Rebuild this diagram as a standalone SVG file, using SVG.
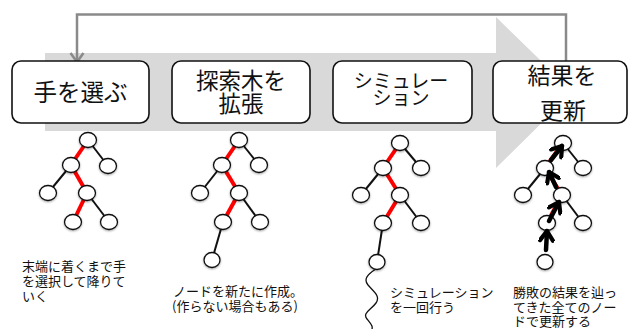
<svg xmlns="http://www.w3.org/2000/svg" width="629" height="329" viewBox="0 0 629 329">
<style>
.box{fill:#fff;stroke:#111;stroke-width:1.6}
.bt{font-family:"Noto Sans CJK JP","Liberation Sans",sans-serif;fill:#111;text-anchor:middle}
.lt{font-family:"Noto Sans CJK JP","Liberation Sans",sans-serif;fill:#111;font-size:13px}
.nd{fill:#fff;stroke:#111;stroke-width:1.3;filter:url(#sh)}
.eb{stroke:#111;stroke-width:2;fill:none}
.er{stroke:#f00;stroke-width:4;fill:none}
.ua{stroke:#000;stroke-width:4.5;fill:none;stroke-linecap:round;marker-end:url(#ch)}
</style>
<defs>
<filter id="sh" x="-50%" y="-50%" width="200%" height="200%">
<feDropShadow dx="0" dy="1" stdDeviation="1" flood-color="#000" flood-opacity="0.35"/>
</filter>
<marker id="ch" viewBox="0 0 16 16" refX="12.5" refY="8" markerWidth="16" markerHeight="16" orient="auto" markerUnits="userSpaceOnUse">
<polyline points="3,1.5 12.5,8 3,14.5" fill="none" stroke="#000" stroke-width="4.2" stroke-linecap="round" stroke-linejoin="round"/>
</marker>
</defs>
<!-- big gray process arrow -->
<polygon points="45,53 496,53 496,17 573,92 496,168 496,131 45,131" fill="#d9d9d9"/>
<!-- feedback connector -->
<g id="connectors">
<polyline points="566,62 566,14.5 77,14.5 77,60" fill="none" stroke="#8a8a8a" stroke-width="2.5"/>
<polyline points="70.5,53 77,62 83.5,53" fill="none" stroke="#8a8a8a" stroke-width="2.5"/>
</g>
<g id="box1">
<rect class="box" x="12" y="61" width="137" height="62" rx="9"/>
<text class="bt" x="80.5" y="101" font-size="23.5">手を選ぶ</text>
</g>
<g id="box2">
<rect class="box" x="172" y="61" width="138" height="62" rx="9"/>
<text class="bt" x="241" y="89" font-size="22.5">探索木を</text>
<text class="bt" x="241" y="112" font-size="22.5">拡張</text>
</g>
<g id="box3">
<rect class="box" x="333" y="61" width="139" height="62" rx="9"/>
<text class="bt" x="401" y="88" font-size="19">シミュレー</text>
<text class="bt" x="401" y="105" font-size="19">ション</text>
</g>
<g id="box4">
<rect class="box" x="493" y="61" width="134" height="62" rx="9"/>
<text class="bt" x="562" y="84" font-size="23">結果を</text>
<text class="bt" x="563" y="119" font-size="23">更新</text>
</g>
<!-- tree 1 -->
<g id="tree1">
<line class="er" x1="88" y1="140" x2="71" y2="165"/>
<line class="eb" x1="88" y1="140" x2="108" y2="166"/>
<line class="eb" x1="71" y1="165" x2="48" y2="193"/>
<line class="er" x1="71" y1="165" x2="87" y2="193"/>
<line class="er" x1="87" y1="193" x2="73" y2="222"/>
<line class="eb" x1="87" y1="193" x2="109" y2="222"/>
<ellipse class="nd" cx="88" cy="140" rx="8.5" ry="7.5"/>
<ellipse class="nd" cx="71" cy="165" rx="8.5" ry="7.5"/>
<ellipse class="nd" cx="108" cy="166" rx="8.5" ry="7.5"/>
<ellipse class="nd" cx="48" cy="193" rx="8.5" ry="7.5"/>
<ellipse class="nd" cx="87" cy="193" rx="8.5" ry="7.5"/>
<ellipse class="nd" cx="73" cy="222" rx="8.5" ry="7.5"/>
<ellipse class="nd" cx="109" cy="222" rx="8.5" ry="7.5"/>
<text class="lt" x="22" y="271">末端に着くまで手</text>
<text class="lt" x="22" y="286">を選択して降りて</text>
<text class="lt" x="22" y="301">いく</text>
</g>
<!-- tree 2 -->
<g id="tree2">
<line class="er" x1="239" y1="140" x2="222" y2="165"/>
<line class="eb" x1="239" y1="140" x2="259" y2="165"/>
<line class="eb" x1="222" y1="165" x2="200" y2="193"/>
<line class="er" x1="222" y1="165" x2="239" y2="193"/>
<line class="er" x1="239" y1="193" x2="223" y2="222"/>
<line class="eb" x1="239" y1="193" x2="260" y2="222"/>
<line class="eb" x1="223" y1="222" x2="212" y2="260"/>
<ellipse class="nd" cx="239" cy="140" rx="8.5" ry="7.5"/>
<ellipse class="nd" cx="222" cy="165" rx="8.5" ry="7.5"/>
<ellipse class="nd" cx="259" cy="165" rx="8.5" ry="7.5"/>
<ellipse class="nd" cx="200" cy="193" rx="8.5" ry="7.5"/>
<ellipse class="nd" cx="239" cy="193" rx="8.5" ry="7.5"/>
<ellipse class="nd" cx="223" cy="222" rx="8.5" ry="7.5"/>
<ellipse class="nd" cx="260" cy="222" rx="8.5" ry="7.5"/>
<ellipse class="nd" cx="212" cy="260" rx="8" ry="7.5"/>
<text class="lt" x="173" y="296">ノードを新たに作成。</text>
<text class="lt" x="172" y="311">(作らない場合もある)</text>
</g>
<!-- tree 3 -->
<g id="tree3">
<line class="er" x1="400" y1="143" x2="383" y2="168"/>
<line class="eb" x1="400" y1="143" x2="421" y2="168"/>
<line class="eb" x1="383" y1="168" x2="361" y2="195"/>
<line class="er" x1="383" y1="168" x2="400" y2="195"/>
<line class="er" x1="400" y1="195" x2="383" y2="223"/>
<line class="eb" x1="400" y1="195" x2="421" y2="223"/>
<line class="eb" x1="383" y1="223" x2="377" y2="262"/>
<path d="M376,269 C368,274 363,279 368,285 C373,291 381,296 376,303 C371,310 362,313 367,319 C371,324 374,327 371,331" fill="none" stroke="#111" stroke-width="1.3"/>
<ellipse class="nd" cx="400" cy="143" rx="8.5" ry="7.5"/>
<ellipse class="nd" cx="383" cy="168" rx="8.5" ry="7.5"/>
<ellipse class="nd" cx="421" cy="168" rx="8.5" ry="7.5"/>
<ellipse class="nd" cx="361" cy="195" rx="8.5" ry="7.5"/>
<ellipse class="nd" cx="400" cy="195" rx="8.5" ry="7.5"/>
<ellipse class="nd" cx="383" cy="223" rx="8.5" ry="7.5"/>
<ellipse class="nd" cx="421" cy="223" rx="8.5" ry="7.5"/>
<ellipse class="nd" cx="377" cy="262" rx="8" ry="7.5"/>
<text class="lt" x="390" y="297">シミュレーション</text>
<text class="lt" x="390" y="312">を一回行う</text>
</g>
<!-- tree 4 -->
<g id="tree4">
<line class="er" x1="563" y1="143" x2="545" y2="168"/>
<line class="eb" x1="563" y1="143" x2="583" y2="168"/>
<line class="eb" x1="545" y1="168" x2="523" y2="195"/>
<line class="er" x1="545" y1="168" x2="562" y2="195"/>
<line class="er" x1="562" y1="195" x2="547" y2="223"/>
<line class="eb" x1="562" y1="195" x2="583" y2="223"/>
<ellipse class="nd" cx="563" cy="143" rx="8.5" ry="7.5"/>
<ellipse class="nd" cx="545" cy="168" rx="8.5" ry="7.5"/>
<ellipse class="nd" cx="583" cy="168" rx="8.5" ry="7.5"/>
<ellipse class="nd" cx="523" cy="195" rx="8.5" ry="7.5"/>
<ellipse class="nd" cx="562" cy="195" rx="8.5" ry="7.5"/>
<ellipse class="nd" cx="547" cy="223" rx="8.5" ry="7.5"/>
<ellipse class="nd" cx="583" cy="223" rx="8.5" ry="7.5"/>
<ellipse class="nd" cx="545" cy="262" rx="8" ry="7.5"/>
<line class="ua" x1="546" y1="250" x2="547" y2="231"/>
<line class="ua" x1="549" y1="221" x2="559" y2="202"/>
<line class="ua" x1="556" y1="187" x2="549" y2="172"/>
<line class="ua" x1="551" y1="160" x2="562" y2="146"/>
<text class="lt" x="513" y="297">勝敗の結果を辿っ</text>
<text class="lt" x="513" y="312">てきた全てのノー</text>
<text class="lt" x="513" y="326">ドで更新する</text>
</g>
</svg>
